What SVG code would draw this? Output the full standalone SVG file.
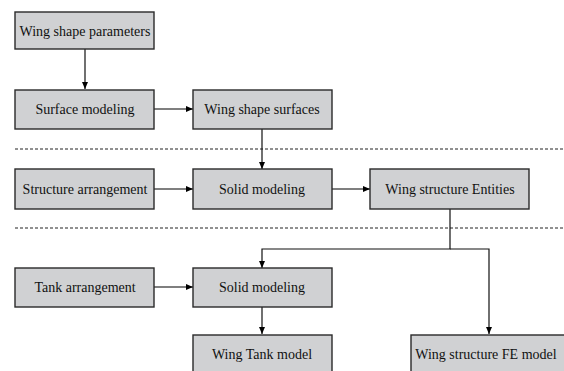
<svg xmlns="http://www.w3.org/2000/svg" width="564" height="371" viewBox="0 0 564 371">
<style>
.box{fill:#d0d1d3;stroke:#2a2a2a;stroke-width:1.4}
.lbl{font-family:'Liberation Serif','Times New Roman','DejaVu Serif',serif;font-size:14px;fill:#111;text-anchor:middle}
.c{fill:none;stroke:#111;stroke-width:1.2}
.g{fill:none;stroke:#555;stroke-width:1.4}
.d{fill:none;stroke:#222;stroke-width:1;stroke-dasharray:3,2}
</style>
<defs>
<marker id="ah" markerWidth="7" markerHeight="6" refX="7" refY="3" orient="auto" markerUnits="userSpaceOnUse">
<path d="M0,0 L7,3 L0,6 Z" fill="#000"/>
</marker>
</defs>
<g id="connectors">
<line class="d" x1="15" y1="149" x2="564" y2="149"/>
<line class="d" x1="15" y1="228" x2="564" y2="228"/>
<line class="c" x1="85" y1="49" x2="85" y2="89" marker-end="url(#ah)"/>
<line class="g" x1="154" y1="109" x2="193" y2="109" marker-end="url(#ah)"/>
<line class="c" x1="262" y1="129" x2="262" y2="169" marker-end="url(#ah)"/>
<line class="g" x1="154" y1="189" x2="193" y2="189" marker-end="url(#ah)"/>
<line class="g" x1="332" y1="189" x2="370" y2="189" marker-end="url(#ah)"/>
<polyline class="c" points="450,209 450,249 262,249 262,268" marker-end="url(#ah)"/>
<polyline class="c" points="450,249 489,249 489,334" marker-end="url(#ah)"/>
<line class="g" x1="154" y1="287" x2="193" y2="287" marker-end="url(#ah)"/>
<line class="c" x1="262" y1="307" x2="262" y2="334" marker-end="url(#ah)"/>
</g>
<g id="wing-shape-parameters"><rect class="box" x="15" y="12" width="139" height="37"/><text class="lbl" x="85" y="35.5">Wing shape parameters</text></g>
<g id="surface-modeling"><rect class="box" x="15" y="90" width="139" height="39"/><text class="lbl" x="85" y="114">Surface modeling</text></g>
<g id="wing-shape-surfaces"><rect class="box" x="193" y="90" width="139" height="39"/><text class="lbl" x="262" y="114">Wing shape surfaces</text></g>
<g id="structure-arrangement"><rect class="box" x="15" y="169" width="139" height="40"/><text class="lbl" x="85" y="194">Structure arrangement</text></g>
<g id="solid-modeling-1"><rect class="box" x="193" y="169" width="139" height="40"/><text class="lbl" x="262" y="194">Solid modeling</text></g>
<g id="wing-structure-entities"><rect class="box" x="370" y="169" width="159" height="40"/><text class="lbl" x="450" y="194">Wing structure Entities</text></g>
<g id="tank-arrangement"><rect class="box" x="15" y="268" width="139" height="39"/><text class="lbl" x="85" y="292">Tank arrangement</text></g>
<g id="solid-modeling-2"><rect class="box" x="193" y="268" width="139" height="39"/><text class="lbl" x="262" y="292">Solid modeling</text></g>
<g id="wing-tank-model"><rect class="box" x="193" y="335" width="139" height="45"/><text class="lbl" x="262" y="359">Wing Tank model</text></g>
<g id="wing-structure-fe-model"><rect class="box" x="411" y="335" width="160" height="45"/><text class="lbl" x="486" y="359">Wing structure FE model</text></g>
</svg>
